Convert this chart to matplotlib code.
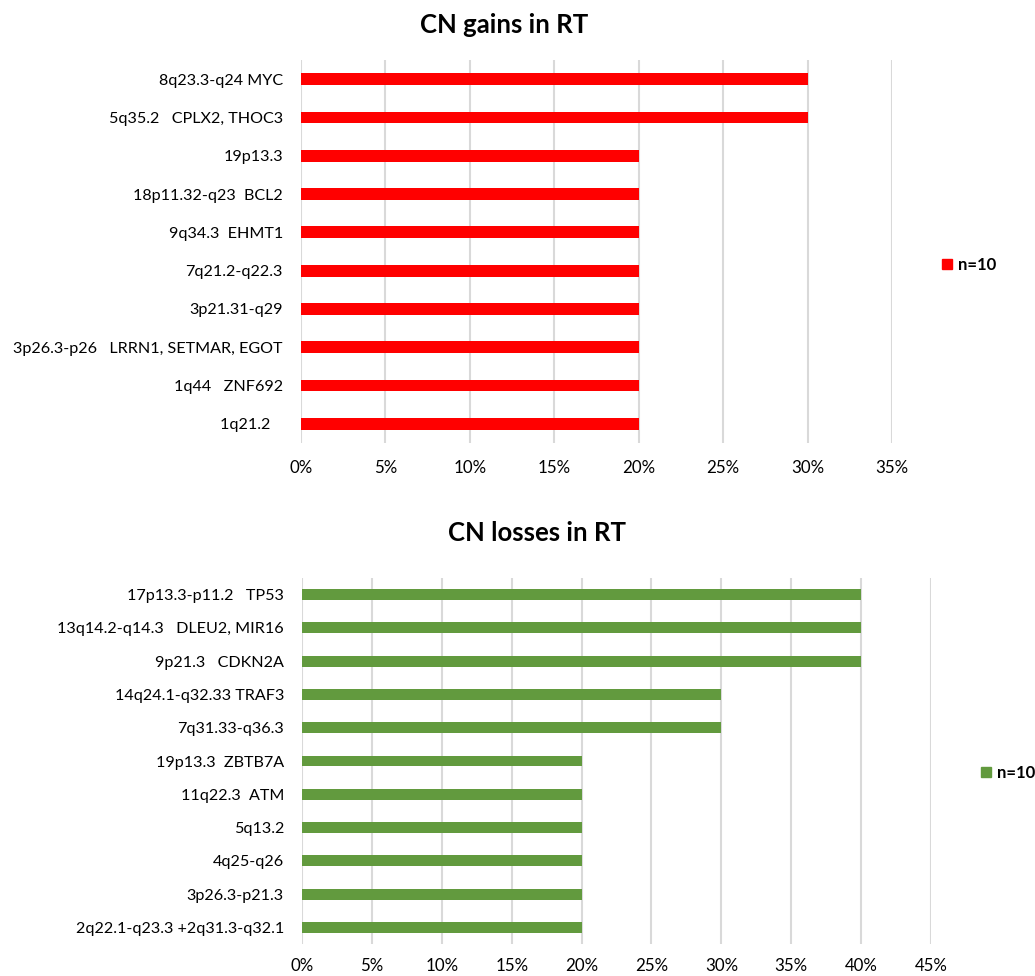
import matplotlib
matplotlib.use("Agg")
import matplotlib.pyplot as plt
from matplotlib.ticker import PercentFormatter, MultipleLocator
from matplotlib.patches import Patch

plt.rcParams['font.family'] = ['Lato', 'DejaVu Sans']

gain_labels = ["1q21.2   ", "1q44   ZNF692", "3p26.3-p26   LRRN1, SETMAR, EGOT",
               "3p21.31-q29", "7q21.2-q22.3", "9q34.3  EHMT1", "18p11.32-q23  BCL2",
               "19p13.3", "5q35.2   CPLX2, THOC3", "8q23.3-q24 MYC"]
gain_values = [0.20, 0.20, 0.20, 0.20, 0.20, 0.20, 0.20, 0.20, 0.30, 0.30]

loss_labels = ["2q22.1-q23.3 +2q31.3-q32.1", "3p26.3-p21.3", "4q25-q26", "5q13.2",
               "11q22.3  ATM", "19p13.3  ZBTB7A", "7q31.33-q36.3", "14q24.1-q32.33 TRAF3",
               "9p21.3   CDKN2A", "13q14.2-q14.3   DLEU2, MIR16", "17p13.3-p11.2   TP53"]
loss_values = [0.20, 0.20, 0.20, 0.20, 0.20, 0.20, 0.30, 0.30, 0.40, 0.40, 0.40]

series_name = "n=10"
gain_color = "#FF0000"
loss_color = "#629A3E"
grid_color = "#D9D9D9"

W, H = 1035, 976
fig = plt.figure(figsize=(W / 100, H / 100), dpi=100)


def make_axes(left, right, top, bottom):
    return fig.add_axes([left / W, 1 - bottom / H, (right - left) / W, (bottom - top) / H])


def style(ax, labels, values, color, xmax, bar_h, xpad):
    y = range(len(labels))
    ax.barh(list(y), values, height=bar_h, color=color, zorder=3)
    ax.set_xlim(0, xmax)
    ax.set_ylim(-0.5, len(labels) - 0.5)
    ax.set_yticks(list(y))
    ax.set_yticklabels(labels, fontsize=11.6, color="#000000")
    ax.xaxis.set_major_locator(MultipleLocator(0.05))
    ax.xaxis.set_major_formatter(PercentFormatter(1.0, decimals=0))
    ax.tick_params(axis='y', length=0, pad=13)
    ax.tick_params(axis='x', length=0, pad=xpad, labelsize=12.2)
    for s in ax.spines.values():
        s.set_visible(False)
    ax.grid(axis='x', color=grid_color, linewidth=1.5, zorder=0)
    ax.set_axisbelow(True)


def add_legend(color, x, y):
    fig.legend(handles=[Patch(color=color, label=series_name)],
               loc='center left', bbox_to_anchor=(x / W, 1 - y / H), frameon=False,
               borderpad=0, borderaxespad=0,
               handlelength=0.6, handleheight=0.6, handletextpad=0.35,
               prop={'weight': 'bold', 'size': 12})


ax1 = make_axes(301, 892, 60, 443)
style(ax1, gain_labels, gain_values, gain_color, 0.35, 0.31, 12)
fig.text(504 / W, 1 - 25 / H, "CN gains in RT", ha='center', va='center',
         fontsize=18.5, fontweight='bold')
add_legend(gain_color, 942, 265)

ax2 = make_axes(302, 931, 578, 944)
style(ax2, loss_labels, loss_values, loss_color, 0.45, 0.33, 10)
fig.text(537 / W, 1 - 533 / H, "CN losses in RT", ha='center', va='center',
         fontsize=18.5, fontweight='bold')
add_legend(loss_color, 981, 773)

fig.savefig("out.png", dpi=100, facecolor="white")
